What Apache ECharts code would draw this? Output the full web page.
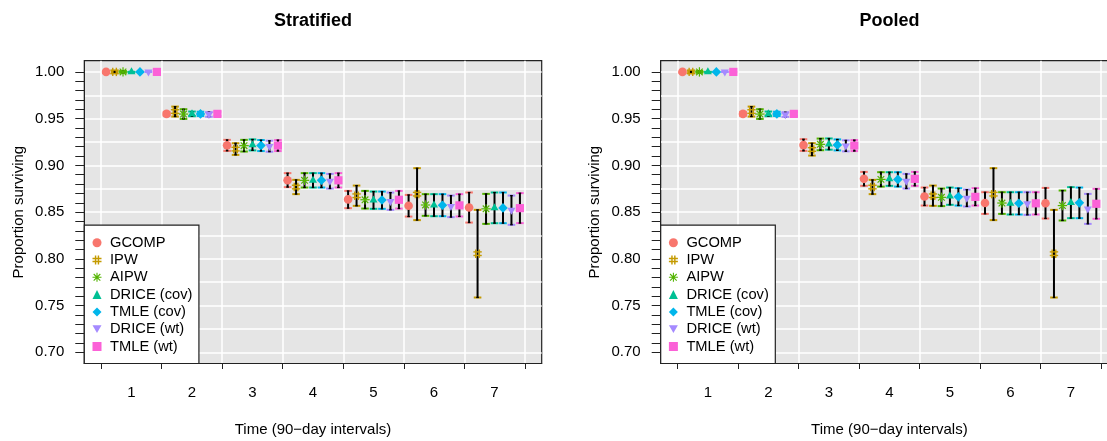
<!DOCTYPE html>
<html><head><meta charset="utf-8">
<script src="https://cdn.jsdelivr.net/npm/echarts@6/dist/echarts.min.js"></script>
<style>html,body{margin:0;padding:0;background:#fff}#c{width:1107px;height:441px}</style>
</head><body><div id="c"></div>
<script>
// ---------------- data ----------------
const times = [1, 2, 3, 4, 5, 6, 7];
const methods = ['GCOMP', 'IPW', 'AIPW', 'DRICE (cov)', 'TMLE (cov)', 'DRICE (wt)', 'TMLE (wt)'];
const panelTitles = ['Stratified', 'Pooled'];
const xTickValues = [0.5, 1.5, 2.5, 3.5, 4.5, 5.5, 6.5, 7.5];
const yTickValues = [0.70,0.71,0.72,0.73,0.74,0.75,0.76,0.77,0.78,0.79,0.80,0.81,0.82,0.83,0.84,0.85,0.86,0.87,0.88,0.89,0.90,0.91,0.92,0.93,0.94,0.95,0.96,0.97,0.98,0.99,1.00];
const yLabelValues = [0.70, 0.75, 0.80, 0.85, 0.90, 0.95, 1.00];
const yGridValues = [0.700, 0.725, 0.750, 0.775, 0.800, 0.825, 0.850, 0.875, 0.900, 0.925, 0.950, 0.975, 1.000];

// rows = methods (same order as `methods`), columns = times
const stratifiedEst = [
  [1.000, 0.9551, 0.9214, 0.8840, 0.8636, 0.8568, 0.8549],
  [1.000, 0.9576, 0.9174, 0.8768, 0.8675, 0.8692, 0.8055],
  [1.000, 0.9549, 0.9211, 0.8840, 0.8632, 0.8576, 0.8535],
  [1.000, 0.9551, 0.9219, 0.8840, 0.8628, 0.8574, 0.8545],
  [1.000, 0.9551, 0.9212, 0.8840, 0.8630, 0.8574, 0.8545],
  [1.000, 0.9545, 0.9205, 0.8831, 0.8616, 0.8561, 0.8521],
  [1.000, 0.9551, 0.9212, 0.8840, 0.8632, 0.8572, 0.8542]
];
const stratifiedLower = [
  [0.999, 0.9530, 0.9155, 0.8767, 0.8542, 0.8452, 0.8388],
  [0.999, 0.9522, 0.9112, 0.8692, 0.8567, 0.8414, 0.7586],
  [0.999, 0.9497, 0.9148, 0.8763, 0.8538, 0.8460, 0.8374],
  [1.000, 0.9526, 0.9160, 0.8763, 0.8535, 0.8456, 0.8381],
  [1.000, 0.9528, 0.9153, 0.8763, 0.8535, 0.8456, 0.8381],
  [1.000, 0.9520, 0.9146, 0.8752, 0.8524, 0.8446, 0.8364],
  [1.000, 0.9529, 0.9153, 0.8763, 0.8538, 0.8453, 0.8382]
];
const stratifiedUpper = [
  [1.000, 0.9572, 0.9273, 0.8917, 0.8727, 0.8684, 0.8710],
  [1.001, 0.9629, 0.9237, 0.8845, 0.8784, 0.8970, 0.8524],
  [1.001, 0.9601, 0.9273, 0.8917, 0.8727, 0.8692, 0.8695],
  [1.000, 0.9576, 0.9278, 0.8917, 0.8720, 0.8692, 0.8710],
  [1.000, 0.9574, 0.9271, 0.8917, 0.8720, 0.8692, 0.8710],
  [1.000, 0.9570, 0.9264, 0.8909, 0.8709, 0.8677, 0.8677],
  [1.000, 0.9573, 0.9271, 0.8917, 0.8727, 0.8692, 0.8703]
];
const pooledEst = [
  [1.000, 0.9551, 0.9217, 0.8856, 0.8667, 0.8597, 0.8595],
  [1.000, 0.9576, 0.9170, 0.8768, 0.8675, 0.8692, 0.8055],
  [1.000, 0.9549, 0.9225, 0.8850, 0.8658, 0.8597, 0.8570],
  [1.000, 0.9551, 0.9228, 0.8854, 0.8670, 0.8594, 0.8601],
  [1.000, 0.9551, 0.9219, 0.8850, 0.8663, 0.8594, 0.8599],
  [1.000, 0.9544, 0.9209, 0.8831, 0.8650, 0.8591, 0.8535],
  [1.000, 0.9551, 0.9212, 0.8856, 0.8663, 0.8594, 0.8589]
];
const pooledLower = [
  [0.999, 0.9530, 0.9155, 0.8781, 0.8570, 0.8481, 0.8431],
  [0.999, 0.9522, 0.9105, 0.8692, 0.8567, 0.8414, 0.7586],
  [0.999, 0.9497, 0.9162, 0.8773, 0.8564, 0.8481, 0.8410],
  [1.000, 0.9526, 0.9168, 0.8781, 0.8578, 0.8474, 0.8435],
  [1.000, 0.9528, 0.9160, 0.8773, 0.8570, 0.8474, 0.8435],
  [1.000, 0.9519, 0.9150, 0.8752, 0.8560, 0.8470, 0.8374],
  [1.000, 0.9529, 0.9153, 0.8781, 0.8570, 0.8474, 0.8428]
];
const pooledUpper = [
  [1.000, 0.9572, 0.9280, 0.8930, 0.8763, 0.8713, 0.8759],
  [1.001, 0.9629, 0.9237, 0.8845, 0.8784, 0.8970, 0.8524],
  [1.001, 0.9601, 0.9287, 0.8927, 0.8752, 0.8713, 0.8731],
  [1.000, 0.9576, 0.9288, 0.8927, 0.8763, 0.8713, 0.8767],
  [1.000, 0.9574, 0.9278, 0.8927, 0.8756, 0.8713, 0.8763],
  [1.000, 0.9569, 0.9268, 0.8909, 0.8741, 0.8713, 0.8695],
  [1.000, 0.9573, 0.9271, 0.8930, 0.8756, 0.8713, 0.8749]
];

// ---------------- styling ----------------
const colors = ['#F8766D', '#C49A00', '#53B400', '#00C094', '#00B6EB', '#A58AFF', '#FB61D7'];
const FONT = '"Liberation Sans", Arial, Helvetica, sans-serif';
const DODGE = 0.14;
const gridLeft = [84.3, 660.7];
const gridTop = 60.7, gridW = 457.4, gridH = 302.8;

const legendIcons = [
  'circle',
  'path://M2.6,0h1.6v10h-1.6z M5.8,0h1.6v10h-1.6z M0,2.6h10v1.6h-10z M0,5.8h10v1.6h-10z',
  'path://M0,4.4h10v1.2h-10z M4.4,0h1.2v10h-1.2z M0.9,1.75L1.75,0.9L9.1,8.25L8.25,9.1Z M8.25,0.9L9.1,1.75L1.75,9.1L0.9,8.25Z',
  'triangle',
  'diamond',
  'path://M0,0L10,0L5,8.66Z',
  'rect'
];

function symbolShape(mi, cx, cy, color) {
  switch (mi) {
    case 0: return { type: 'circle', shape: { cx, cy, r: 4.3 }, style: { fill: color } };
    case 1: {
      const s = 4.2, g = 1.8, ls = [];
      ls.push([cx - g, cy - s, cx - g, cy + s]);
      ls.push([cx + g, cy - s, cx + g, cy + s]);
      ls.push([cx - s, cy - g, cx + s, cy - g]);
      ls.push([cx - s, cy + g, cx + s, cy + g]);
      return { type: 'group', children: ls.map(l => ({ type: 'line', shape: { x1: l[0], y1: l[1], x2: l[2], y2: l[3] }, style: { stroke: color, lineWidth: 1.4 } })) };
    }
    case 2: {
      const s = 4.7, d = 3.3, ls = [];
      ls.push([cx - s, cy, cx + s, cy]);
      ls.push([cx, cy - s, cx, cy + s]);
      ls.push([cx - d, cy - d, cx + d, cy + d]);
      ls.push([cx - d, cy + d, cx + d, cy - d]);
      return { type: 'group', children: ls.map(l => ({ type: 'line', shape: { x1: l[0], y1: l[1], x2: l[2], y2: l[3] }, style: { stroke: color, lineWidth: 1.2 } })) };
    }
    case 3: {
      const xc = 3.0;
      return { type: 'polygon', shape: { points: [[cx, cy - 1.555 * xc], [cx + 1.347 * xc, cy + 0.778 * xc], [cx - 1.347 * xc, cy + 0.778 * xc]] }, style: { fill: color } };
    }
    case 4: {
      const r = 4.8;
      return { type: 'polygon', shape: { points: [[cx, cy - r], [cx + r, cy], [cx, cy + r], [cx - r, cy]] }, style: { fill: color } };
    }
    case 5: {
      const xc = 3.0;
      return { type: 'polygon', shape: { points: [[cx, cy + 1.555 * xc], [cx + 1.347 * xc, cy - 0.778 * xc], [cx - 1.347 * xc, cy - 0.778 * xc]] }, style: { fill: color } };
    }
    default: {
      const h = 4.1;
      return { type: 'rect', shape: { x: cx - h, y: cy - h, width: 2 * h, height: 2 * h }, style: { fill: color } };
    }
  }
}

function makeRender(mi) {
  const color = colors[mi];
  return function (params, api) {
    const x = api.value(0), est = api.value(1), lo = api.value(2), hi = api.value(3);
    const c = api.coord([x, est]), cl = api.coord([x, lo]), ch = api.coord([x, hi]);
    const cx = c[0], cy = c[1];
    const capW = 3.8;
    const children = [
      { type: 'line', shape: { x1: cx - capW, y1: ch[1], x2: cx + capW, y2: ch[1] }, style: { stroke: color, lineWidth: 2 } },
      { type: 'line', shape: { x1: cx - capW, y1: cl[1], x2: cx + capW, y2: cl[1] }, style: { stroke: color, lineWidth: 2 } },
      { type: 'line', shape: { x1: cx, y1: ch[1], x2: cx, y2: cl[1] }, style: { stroke: '#000', lineWidth: 2 } },
      { type: 'line', shape: { x1: cx - 1.3, y1: ch[1], x2: cx + 1.3, y2: ch[1] }, style: { stroke: '#000', lineWidth: 1.2 } },
      { type: 'line', shape: { x1: cx - 1.3, y1: cl[1], x2: cx + 1.3, y2: cl[1] }, style: { stroke: '#000', lineWidth: 1.2 } },
      symbolShape(mi, cx, cy, color)
    ];
    return { type: 'group', children };
  };
}

const panels = [
  { est: stratifiedEst, lo: stratifiedLower, hi: stratifiedUpper },
  { est: pooledEst, lo: pooledLower, hi: pooledUpper }
];

const grids = [], xAxes = [], yAxes = [], series = [], titles = [], legends = [];
panels.forEach((p, pi) => {
  grids.push({
    left: gridLeft[pi], top: gridTop, width: gridW, height: gridH,
    show: true, backgroundColor: '#E5E5E5', borderColor: '#222', borderWidth: 1.2,
    containLabel: false, outerBoundsMode: 'none'
  });
  titles.push({
    text: panelTitles[pi], left: gridLeft[pi] + gridW / 2, top: 12, textAlign: 'center', padding: 0,
    textStyle: { fontFamily: FONT, fontSize: 18, fontWeight: 'bold', color: '#000' }
  });
  xAxes.push({
    type: 'value', gridIndex: pi, min: 0.22, max: 7.78,
    name: 'Time (90\u2212day intervals)', nameLocation: 'middle', nameGap: 59,
    nameTextStyle: { fontFamily: FONT, fontSize: 15, color: '#000' },
    axisLine: { show: true, onZero: false, lineStyle: { color: '#222', width: 1 } },
    axisTick: { show: true, customValues: xTickValues, length: 5.5, inside: false, lineStyle: { color: '#222', width: 1 } },
    axisLabel: { show: true, customValues: times, margin: 22, fontFamily: FONT, fontSize: 15, color: '#000', formatter: v => String(v) },
    splitLine: { show: true, lineStyle: { color: '#FFFFFF', width: 1.5 } }
  });
  yAxes.push({
    type: 'value', gridIndex: pi, min: 0.688, max: 1.012, position: 'left',
    name: 'Proportion surviving', nameLocation: 'middle', nameGap: 58, nameRotate: 90,
    nameTextStyle: { fontFamily: FONT, fontSize: 15, color: '#000' },
    axisLine: { show: true, lineStyle: { color: '#222', width: 1 } },
    axisTick: { show: true, customValues: yTickValues, length: 9, lineStyle: { color: '#222', width: 1 } },
    axisLabel: { show: true, customValues: yLabelValues, margin: 20, fontFamily: FONT, fontSize: 15, color: '#000', formatter: v => v.toFixed(2) },
    splitLine: { show: false }
  });
  yAxes.push({
    type: 'value', gridIndex: pi, min: 0.688, max: 1.012, position: 'right',
    axisLine: { show: false },
    axisTick: { show: false, customValues: yGridValues },
    axisLabel: { show: false },
    splitLine: { show: true, lineStyle: { color: '#FFFFFF', width: 1.5 } }
  });
  methods.forEach((m, mi) => {
    const data = times.map((t, ti) => [t + (mi - 3) * DODGE, p.est[mi][ti], p.lo[mi][ti], p.hi[mi][ti]]);
    series.push({
      type: 'custom', name: m, xAxisIndex: pi, yAxisIndex: pi * 2,
      itemStyle: { color: colors[mi] },
      renderItem: makeRender(mi),
      encode: { x: 0, y: [1, 2, 3] },
      data, z: 3, silent: true
    });
  });
  legends.push({
    orient: 'vertical', left: gridLeft[pi], bottom: 441 - (gridTop + gridH),
    backgroundColor: '#FFFFFF', borderColor: '#222', borderWidth: 1.2,
    padding: [10, 6.5, 9.5, 8.2], itemGap: 2.3, itemWidth: 9, itemHeight: 9,
    selectedMode: false,
    textStyle: { fontFamily: FONT, fontSize: 14.7, color: '#000', lineHeight: 15, padding: [0, 0, 0, 3.5] },
    data: methods.map((m, mi) => ({ name: m, icon: legendIcons[mi], itemStyle: { color: colors[mi] } })),
    z: 10
  });
});

const chart = echarts.init(document.getElementById('c'), null, { renderer: 'canvas' });
chart.setOption({
  animation: false,
  backgroundColor: '#FFFFFF',
  title: titles,
  legend: legends,
  grid: grids,
  xAxis: xAxes,
  yAxis: yAxes,
  series
});
</script>
</body></html>
